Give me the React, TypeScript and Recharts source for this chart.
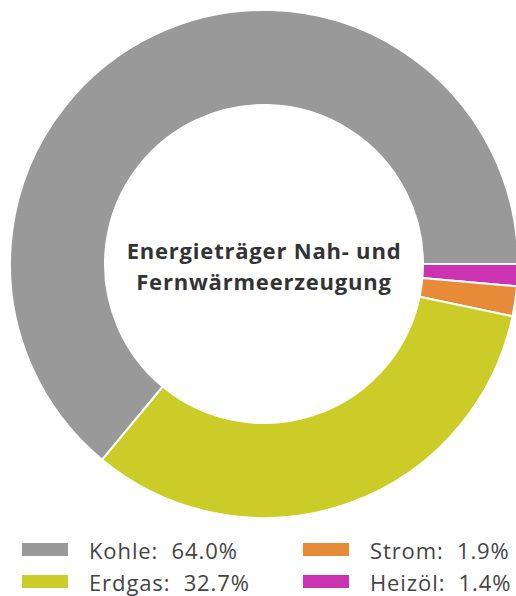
import { PieChart, Pie, Cell } from "recharts"

const categories = ["Heizöl", "Strom", "Erdgas", "Kohle"]
const shares = [1.4, 1.9, 32.7, 64.0]
const colors = ["#cc33b3", "#e88b39", "#cccc29", "#999999"]

// legend reads column by column: Kohle, Erdgas | Strom, Heizöl
const legendColumns = [["Kohle", "Erdgas"], ["Strom", "Heizöl"]]
const titleLines = ["Energieträger Nah- und", "Fernwärmeerzeugung"]

const data = categories.map((name, i) => ({ name, value: shares[i], color: colors[i] }))

const font = "'Open Sans', sans-serif"

export default function App() {
  return (
    <div style={{ position: "absolute", left: 0, top: 0, width: 516, height: 596, background: "#fff", overflow: "hidden" }}>
      <PieChart width={516} height={596} margin={{ top: 0, right: 0, bottom: 0, left: 0 }}>
        <Pie
          data={data}
          dataKey="value"
          nameKey="name"
          cx={264}
          cy={264}
          innerRadius={159}
          outerRadius={254}
          startAngle={0}
          endAngle={-360}
          stroke="#fff"
          strokeWidth={2}
          isAnimationActive={false}
        >
          {data.map((d) => (
            <Cell key={d.name} fill={d.color} />
          ))}
        </Pie>
        {titleLines.map((line, i) => (
          <text
            key={line}
            x={264}
            y={259 + i * 31}
            textAnchor="middle"
            fill="#333"
            fontFamily={font}
            fontWeight={700}
            fontSize={22}
            letterSpacing={0.8}
          >
            {line}
          </text>
        ))}
        {legendColumns.map((col, c) =>
          col.map((name, r) => {
            const i = categories.indexOf(name)
            const x = 22 + c * 281
            const y = 559 + r * 32
            return (
              <g key={name}>
                <rect x={x} y={y - 16} width={46} height={13} fill={colors[i]} />
                <text x={x + 67} y={y} fill="#444" fontFamily={font} fontSize={22} letterSpacing={0.9} style={{ whiteSpace: "pre" }}>
                  {`${name}:  ${shares[i].toFixed(1)}%`}
                </text>
              </g>
            )
          })
        )}
      </PieChart>
    </div>
  )
}
